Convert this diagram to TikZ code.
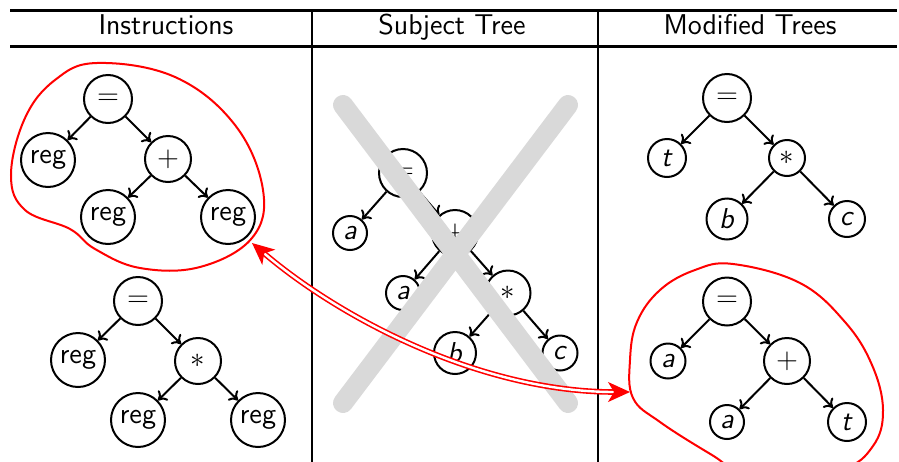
\documentclass[tikz,border=0pt]{standalone}
\usetikzlibrary{arrows.meta}
\definecolor{crossgray}{RGB}{217,217,217}
\begin{document}
\begin{tikzpicture}[x=0.5pt,y=-0.5pt,
  vx/.style={circle, draw, line width=1pt, inner sep=0pt, font=\fontsize{14.4}{17}\sffamily},
  edge/.style={line width=1pt, -{To[length=4pt,width=7pt]}},
  head/.style={font=\fontsize{14.3}{17}\sffamily, anchor=base, inner sep=0pt},
  blob/.style={red, line width=1pt},
  crossbar/.style={crossgray, line width=10pt, line cap=round},
  dblarrow/.style={red, line width=0.8pt, double=white, double distance=1.2pt,
    {Stealth[length=11pt,width=10pt,inset=3pt]}-{Stealth[length=11pt,width=10pt,inset=3pt]}}]
\useasboundingbox (0,0) rectangle (899,461);

% table rules
\draw[line width=1.5pt] (10,10) -- (897,10);
\draw[line width=1.2pt] (10,46.5) -- (897,46.5);
\draw[line width=1pt] (312.3,10) -- (312.3,470);
\draw[line width=1pt] (598.3,10) -- (598.3,470);

% column headings
\node[head] (h1) at (166,34) {Instructions};
\node[head] (h2) at (452,34) {Subject Tree};
\node[head] (h3) at (750,34) {Modified Trees};

% instruction pattern 1: = (reg, + (reg, reg))
\node[vx, minimum size=24pt] (i1r) at (108,99) {$=$};
\node[vx, minimum size=27pt] (i1a) at (48,160) {reg};
\node[vx, minimum size=23pt] (i1b) at (168,159) {$+$};
\node[vx, minimum size=27pt] (i1c) at (108,217) {reg};
\node[vx, minimum size=27pt] (i1d) at (228,217) {reg};
\draw[edge] (i1r) -- (i1a);
\draw[edge] (i1r) -- (i1b);
\draw[edge] (i1b) -- (i1c);
\draw[edge] (i1b) -- (i1d);

% instruction pattern 2: = (reg, * (reg, reg))
\node[vx, minimum size=24pt] (i2r) at (138,301) {$=$};
\node[vx, minimum size=27pt] (i2a) at (78,360) {reg};
\node[vx, minimum size=23pt] (i2b) at (198,361) {$\ast$};
\node[vx, minimum size=27pt] (i2c) at (138,420) {reg};
\node[vx, minimum size=27pt] (i2d) at (258,420) {reg};
\draw[edge] (i2r) -- (i2a);
\draw[edge] (i2r) -- (i2b);
\draw[edge] (i2b) -- (i2c);
\draw[edge] (i2b) -- (i2d);

% subject tree: a = a + b * c
\node[vx, minimum size=24pt] (sr) at (403,173) {$=$};
\node[vx, minimum size=17pt] (sa) at (350,233) {\textit{a}};
\node[vx, minimum size=23pt] (sp) at (455,233) {$+$};
\node[vx, minimum size=17pt] (sa2) at (403,293) {\textit{a}};
\node[vx, minimum size=22.5pt] (sm) at (508,293) {$\ast$};
\node[vx, minimum size=21pt] (sb) at (455,353) {\textit{b}};
\node[vx, minimum size=17.5pt] (sc) at (560,353) {\textit{c}};
\draw[edge] (sr) -- (sa);
\draw[edge] (sr) -- (sp);
\draw[edge] (sp) -- (sa2);
\draw[edge] (sp) -- (sm);
\draw[edge] (sm) -- (sb);
\draw[edge] (sm) -- (sc);

% the subject tree is crossed out
\coordinate (xa) at (343,105);
\coordinate (xb) at (568,403);
\coordinate (xc) at (568,105);
\coordinate (xd) at (343,403);
\draw[crossbar] (xa) -- (xb);
\draw[crossbar] (xc) -- (xd);

% modified tree 1: t = b * c
\node[vx, minimum size=24pt] (m1r) at (727,98) {$=$};
\node[vx, minimum size=19pt] (m1a) at (667,158) {\textit{t}};
\node[vx, minimum size=18pt] (m1b) at (787,158) {$\ast$};
\node[vx, minimum size=20.5pt] (m1c) at (727,219) {\textit{b}};
\node[vx, minimum size=18pt] (m1d) at (847,219) {\textit{c}};
\draw[edge] (m1r) -- (m1a);
\draw[edge] (m1r) -- (m1b);
\draw[edge] (m1b) -- (m1c);
\draw[edge] (m1b) -- (m1d);

% modified tree 2: a = a + t
\node[vx, minimum size=24pt] (m2r) at (727,301.5) {$=$};
\node[vx, minimum size=17.5pt] (m2a) at (668,361) {\textit{a}};
\node[vx, minimum size=23pt] (m2b) at (787,361) {$+$};
\node[vx, minimum size=17pt] (m2c) at (727,422) {\textit{a}};
\node[vx, minimum size=19pt] (m2d) at (847,422) {\textit{t}};
\draw[edge] (m2r) -- (m2a);
\draw[edge] (m2r) -- (m2b);
\draw[edge] (m2b) -- (m2c);
\draw[edge] (m2b) -- (m2d);

% outlines around the matched pattern and its result
\draw[blob] plot[smooth cycle, tension=0.65] coordinates {
  (97,63) (175,77) (235,125) (263,190) (252,238) (200,267) (140,268)
  (95,249) (70,229) (25,210) (11,175) (25,118) (55,80)};
\draw[blob] plot[smooth cycle, tension=0.65] coordinates {
  (733,264) (800,283) (845,322) (872,365) (883,410) (873,446) (840,470)
  (760,482) (712,455) (660,422) (633,398) (630,360) (637,322) (660,290) (695,270)};

% link between the two outlined trees
\coordinate (ls) at (252,243);
\coordinate (le) at (630,392);
\draw[dblarrow] (ls) .. controls (340,318) and (480,392) .. (le);
\end{tikzpicture}
\end{document}
